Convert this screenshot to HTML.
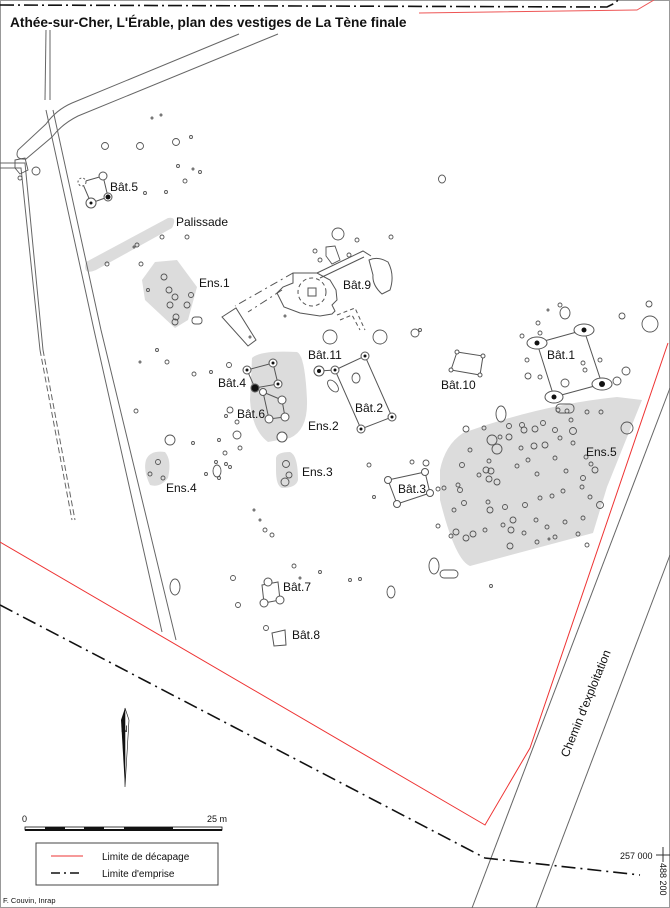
<!DOCTYPE html>
<html><head><meta charset="utf-8"><style>
html,body{margin:0;padding:0;background:#fff}
svg{display:block}
text{font-family:"Liberation Sans",sans-serif;fill:#111}
</style></head><body>
<svg width="670" height="908" viewBox="0 0 670 908" xmlns="http://www.w3.org/2000/svg">
<rect x="0.5" y="0.5" width="669" height="907" fill="#fff" stroke="#999"/>
<!-- top limits -->
<polyline points="0,5 607,7 615,3 618,0" fill="none" stroke="#111" stroke-width="1.6" stroke-dasharray="14,4,2,4"/>
<polyline points="419,13 637,10 654,0" fill="none" stroke="#e55" stroke-width="1"/>
<text x="10" y="27" font-size="13.7" font-weight="bold">Athée-sur-Cher, L'Érable, plan des vestiges de La Tène finale</text>

<!-- gray zones -->
<g fill="#dcdcdc" stroke="none">
<path d="M86,262 L168,218 Q178,216 172,228 L96,270 Q82,276 86,262 Z"/>
<path d="M155,262 L177,260 L197,287 L188,320 L175,328 L145,300 L142,280 Z"/>
<path d="M252,358 Q260,350 297,352 Q305,355 307,400 Q308,430 290,438 L268,442 Q252,430 250,400 Z"/>
<path d="M276,458 Q277,452 290,452 Q298,455 298,480 Q296,488 282,488 Q276,486 276,470 Z"/>
<path d="M146,460 Q150,450 165,452 Q172,460 168,478 Q160,488 150,485 Q143,470 146,460 Z"/>
<path d="M463,433 Q540,405 617,397 L642,400 L607,487 L593,533 L470,566 Q455,560 440,500 L440,470 Q445,445 463,433 Z"/>
</g>

<!-- roads left -->
<path d="M239,34 L72,103 Q56,110 46,124 L18,150 Q14,160 26,159 L52,137 Q62,124 78,116 L278,34" fill="none" stroke="#666" stroke-width="1"/>
<g fill="none" stroke="#666" stroke-width="1">
<polyline points="45,100 46,30"/><polyline points="50,100 50,30"/>
<polyline points="46,110 94,330 162,632"/><polyline points="53,110 101,330 176,640"/>
<polyline points="0,163 25,163 43,350"/><polyline points="0,168 21,168 40,350"/>
<polyline points="43,350 75,520" stroke-dasharray="6,3"/><polyline points="40,350 72,520" stroke-dasharray="6,3"/>
<!-- chemin -->
<line x1="670" y1="388" x2="472" y2="908"/>
<line x1="670" y1="555" x2="536" y2="908"/>
</g>
<!-- limits -->
<polyline points="0,542 485,825 530,748 668,343" fill="none" stroke="#e33" stroke-width="1"/>
<polyline points="0,605 485,858 640,875" fill="none" stroke="#111" stroke-width="1.6" stroke-dasharray="14,5,2,5"/>

<!-- Bât.9 complex -->
<g fill="none" stroke="#555" stroke-width="1">
<path d="M293,273 L317,273 L330,280 L336,290 L337,300 L332,305 L335,311 L332,314 L320,316 L300,313 L284,307 L277,293 L283,287 L293,283 Z"/>
<circle cx="312" cy="292" r="14" stroke-dasharray="4,3"/>
<rect x="308" y="288" width="8" height="8"/>
<polyline points="317,273 363,251 371,256"/><polyline points="320,278 364,257"/>
<path d="M369,260 Q378,256 388,262 Q395,275 390,290 L382,294 Q372,285 373,275 Z"/>
<polyline points="293,273 235,306" stroke-dasharray="8,4,2,4"/>
<polyline points="282,290 248,312" stroke-dasharray="8,4,2,4"/>
<polygon points="222,317 236,308 256,340 248,346"/>
<polyline points="337,315 355,308 365,330" stroke-dasharray="4,3"/>
<polyline points="340,320 352,315 360,330" stroke-dasharray="4,3"/>
</g>

<!-- buildings -->
<g fill="none" stroke="#555" stroke-width="1">
<polygon points="82,182 103,176 108,197 91,203"/>
<polygon points="247,370 273,363 278,384 255,388"/>
<polyline points="263,392 282,400 285,417 269,419 263,392"/>
<polygon points="335,370 365,356 392,417 361,429"/>
<line x1="319" y1="371" x2="335" y2="370"/>
<polygon points="388,480 425,472 430,493 397,504"/>
<polygon points="262,585 278,582 280,600 264,603"/>
<polygon points="272,633 285,630 286,645 274,646"/>
<polygon points="537,343 584,330 602,384 554,397"/>
<polygon points="457,352 483,356 480,375 451,370"/>
</g>
<!-- posts -->
<g fill="#fff" stroke="#555" stroke-width="1">
<circle cx="82" cy="182" r="4" stroke-dasharray="2,2"/><circle cx="103" cy="176" r="4"/><circle cx="108" cy="197" r="4"/><circle cx="91" cy="203" r="5"/>
<circle cx="247" cy="370" r="4"/><circle cx="273" cy="363" r="4"/><circle cx="278" cy="384" r="4"/><circle cx="255" cy="388" r="4"/>
<circle cx="263" cy="392" r="3.5"/><circle cx="282" cy="400" r="4"/><circle cx="285" cy="417" r="4"/><circle cx="269" cy="419" r="4"/><circle cx="282" cy="437" r="5"/>
<circle cx="319" cy="371" r="5"/><circle cx="335" cy="370" r="4"/><circle cx="365" cy="356" r="4"/><circle cx="392" cy="417" r="4"/><circle cx="361" cy="429" r="4"/>
<circle cx="388" cy="480" r="3.5"/><circle cx="425" cy="472" r="3.5"/><circle cx="430" cy="493" r="3.5"/><circle cx="397" cy="504" r="3.5"/>
<circle cx="268" cy="582" r="4"/><circle cx="264" cy="603" r="4"/><circle cx="280" cy="600" r="4"/>
<ellipse cx="537" cy="343" rx="10" ry="6"/><ellipse cx="584" cy="330" rx="10" ry="6"/><ellipse cx="602" cy="384" rx="10" ry="6"/><ellipse cx="554" cy="397" rx="9" ry="6"/>
<circle cx="457" cy="352" r="2"/><circle cx="483" cy="356" r="2"/><circle cx="480" cy="375" r="2"/><circle cx="451" cy="370" r="2"/>
</g>
<g fill="#111">
<circle cx="91" cy="203" r="1.5"/><circle cx="108" cy="197" r="2.5"/>
<circle cx="255" cy="388" r="3.5"/><circle cx="273" cy="363" r="1.5"/><circle cx="278" cy="384" r="1.5"/><circle cx="247" cy="370" r="1.5"/>
<circle cx="319" cy="371" r="2"/><circle cx="335" cy="370" r="1.5"/><circle cx="365" cy="356" r="1.5"/><circle cx="392" cy="417" r="1.5"/><circle cx="361" cy="429" r="1.5"/>
<circle cx="537" cy="343" r="2.5"/><circle cx="584" cy="330" r="2.5"/><circle cx="602" cy="384" r="3"/><circle cx="554" cy="397" r="2.5"/>
</g>

<!-- scattered features -->
<g fill="none" stroke="#555" stroke-width="0.9">
<path d="M15,160 L25,158 L28,170 L20,174 L15,168 Z"/><circle cx="20" cy="178" r="2"/><circle cx="36" cy="171" r="4"/>
<circle cx="105" cy="146" r="3.5"/><circle cx="140" cy="146" r="3.5"/><circle cx="176" cy="142" r="3.5"/><circle cx="191" cy="137" r="1.5"/>
<circle cx="185" cy="181" r="2"/><circle cx="178" cy="166" r="1.5"/><circle cx="145" cy="193" r="1.5"/><circle cx="166" cy="192" r="1.5"/>
<circle cx="161" cy="115" r="1"/><circle cx="152" cy="118" r="1"/><circle cx="200" cy="172" r="1.5"/><circle cx="193" cy="169" r="1"/>
<ellipse cx="442" cy="179" rx="3.5" ry="4"/>
<circle cx="162" cy="237" r="2"/><circle cx="137" cy="245" r="2"/><circle cx="134" cy="247" r="1"/><circle cx="107" cy="264" r="2"/><circle cx="141" cy="264" r="2"/><circle cx="187" cy="237" r="2"/>
<circle cx="164" cy="277" r="3"/><circle cx="169" cy="290" r="3"/><circle cx="175" cy="297" r="3"/><circle cx="187" cy="305" r="3"/><circle cx="170" cy="305" r="3"/><circle cx="176" cy="317" r="3"/><circle cx="175" cy="322" r="3"/><circle cx="191" cy="295" r="2.5"/><circle cx="148" cy="290" r="1.5"/>
<rect x="192" y="317" width="10" height="7" rx="3"/>
<ellipse cx="338" cy="234" rx="6" ry="6"/><circle cx="357" cy="240" r="2"/><circle cx="391" cy="237" r="2"/>
<path d="M326,247 L335,246 L340,260 L332,264 L326,256 Z"/><circle cx="349" cy="255" r="2"/><circle cx="320" cy="260" r="2"/><circle cx="315" cy="251" r="2"/>
<circle cx="330" cy="337" r="7"/><circle cx="380" cy="337" r="7"/><circle cx="415" cy="333" r="4"/>
<circle cx="229" cy="365" r="2.5"/><circle cx="211" cy="372" r="1.5"/><circle cx="194" cy="374" r="2"/><circle cx="157" cy="350" r="1.5"/><circle cx="167" cy="362" r="2"/><circle cx="140" cy="362" r="1"/><circle cx="136" cy="411" r="2"/>
<ellipse cx="333" cy="386" rx="4" ry="7" transform="rotate(-40 333 386)"/><ellipse cx="356" cy="378" rx="4" ry="5"/>
<circle cx="230" cy="410" r="3"/><circle cx="237" cy="422" r="2"/><circle cx="237" cy="435" r="4"/><circle cx="240" cy="448" r="2"/><circle cx="225" cy="453" r="2"/><circle cx="216" cy="462" r="1.5"/><circle cx="219" cy="440" r="1.5"/><circle cx="226" cy="464" r="1.5"/><circle cx="230" cy="467" r="1.5"/>
<circle cx="226" cy="416" r="1.5"/><circle cx="250" cy="337" r="1"/><circle cx="285" cy="316" r="1"/><circle cx="420" cy="330" r="1.5"/>
<ellipse cx="217" cy="471" rx="4" ry="6"/><circle cx="206" cy="474" r="1.5"/><circle cx="219" cy="478" r="1.5"/>
<circle cx="170" cy="440" r="5"/><circle cx="193" cy="443" r="1.5"/>
<circle cx="158" cy="462" r="2.5"/><circle cx="163" cy="478" r="2"/><circle cx="150" cy="474" r="2"/>
<circle cx="286" cy="464" r="3.5"/><circle cx="289" cy="475" r="3"/><circle cx="285" cy="482" r="4"/>
<circle cx="369" cy="465" r="2"/><circle cx="412" cy="462" r="2"/><circle cx="426" cy="463" r="3"/><circle cx="374" cy="497" r="1.5"/><circle cx="438" cy="489" r="2"/>
<ellipse cx="175" cy="587" rx="5" ry="8"/><circle cx="233" cy="578" r="2.5"/><circle cx="238" cy="605" r="2.5"/><circle cx="294" cy="566" r="2"/><circle cx="300" cy="578" r="1"/><circle cx="320" cy="572" r="1.5"/><circle cx="350" cy="580" r="1.5"/><circle cx="360" cy="579" r="1.5"/><circle cx="266" cy="628" r="2.5"/>
<circle cx="265" cy="530" r="2"/><circle cx="272" cy="535" r="2"/><circle cx="260" cy="520" r="1"/><circle cx="254" cy="510" r="1"/>
<ellipse cx="391" cy="592" rx="4" ry="6"/><ellipse cx="434" cy="566" rx="5" ry="8"/><rect x="440" y="570" width="18" height="8" rx="4"/><circle cx="491" cy="586" r="1.5"/>
<ellipse cx="565" cy="313" rx="5" ry="6"/><circle cx="560" cy="305" r="2"/><circle cx="538" cy="323" r="2"/><circle cx="540" cy="333" r="2"/><circle cx="522" cy="336" r="2"/><circle cx="548" cy="310" r="1"/>
<circle cx="650" cy="324" r="8"/><circle cx="622" cy="316" r="3"/><circle cx="649" cy="304" r="3"/>
<circle cx="527" cy="360" r="2"/><circle cx="528" cy="376" r="3"/><circle cx="540" cy="377" r="2"/><circle cx="583" cy="363" r="2"/><circle cx="585" cy="370" r="2"/><circle cx="600" cy="360" r="2"/><circle cx="626" cy="371" r="4"/><circle cx="617" cy="381" r="4"/><circle cx="565" cy="383" r="4"/>
<rect x="556" y="404" width="18" height="9" rx="4"/><ellipse cx="501" cy="414" rx="5" ry="8"/>
<circle cx="509" cy="426" r="2.5"/><circle cx="522" cy="425" r="2.5"/><circle cx="543" cy="423" r="2.5"/><circle cx="558" cy="410" r="2"/><circle cx="567" cy="411" r="2"/><circle cx="587" cy="412" r="2"/><circle cx="601" cy="412" r="2"/><circle cx="627" cy="428" r="6"/>
<circle cx="509" cy="437" r="3"/><circle cx="524" cy="430" r="3"/><circle cx="535" cy="429" r="3"/><circle cx="555" cy="430" r="2.5"/><circle cx="573" cy="431" r="3.5"/><circle cx="571" cy="420" r="2"/><circle cx="466" cy="429" r="3"/><circle cx="484" cy="428" r="2"/><circle cx="500" cy="437" r="2"/>
<circle cx="492" cy="440" r="5"/><circle cx="497" cy="449" r="5"/><circle cx="470" cy="450" r="2"/><circle cx="462" cy="465" r="2.5"/><circle cx="521" cy="448" r="2"/><circle cx="534" cy="446" r="3"/><circle cx="545" cy="445" r="3"/><circle cx="560" cy="438" r="2"/><circle cx="573" cy="443" r="2"/>
<circle cx="486" cy="470" r="3"/><circle cx="491" cy="471" r="3"/><circle cx="489" cy="479" r="3"/><circle cx="497" cy="482" r="3"/><circle cx="517" cy="466" r="2"/><circle cx="528" cy="460" r="2"/><circle cx="537" cy="474" r="2"/><circle cx="555" cy="458" r="2"/><circle cx="566" cy="471" r="2"/><circle cx="586" cy="457" r="2"/><circle cx="591" cy="464" r="2"/><circle cx="595" cy="470" r="3"/><circle cx="583" cy="478" r="2.5"/>
<circle cx="479" cy="475" r="2"/><circle cx="489" cy="461" r="2"/><circle cx="460" cy="490" r="2.5"/><circle cx="464" cy="503" r="2.5"/><circle cx="488" cy="502" r="2"/><circle cx="490" cy="510" r="3"/><circle cx="505" cy="507" r="2.5"/><circle cx="525" cy="505" r="2.5"/><circle cx="540" cy="498" r="2"/><circle cx="552" cy="496" r="2"/><circle cx="563" cy="491" r="2"/><circle cx="582" cy="487" r="2"/><circle cx="590" cy="497" r="2"/><circle cx="600" cy="505" r="3.5"/>
<circle cx="444" cy="488" r="2"/><circle cx="458" cy="485" r="2"/><circle cx="454" cy="510" r="2"/><circle cx="438" cy="526" r="2"/><circle cx="451" cy="536" r="2"/><circle cx="456" cy="532" r="3"/><circle cx="466" cy="538" r="3"/><circle cx="473" cy="534" r="3"/><circle cx="485" cy="530" r="2"/><circle cx="503" cy="525" r="2"/><circle cx="511" cy="530" r="3"/><circle cx="513" cy="520" r="3"/><circle cx="524" cy="533" r="2"/><circle cx="536" cy="520" r="2"/><circle cx="547" cy="527" r="2"/><circle cx="555" cy="537" r="2"/><circle cx="565" cy="522" r="2"/><circle cx="583" cy="518" r="2"/><circle cx="578" cy="534" r="2"/><circle cx="587" cy="545" r="2"/><circle cx="510" cy="546" r="3"/><circle cx="537" cy="542" r="2"/><circle cx="549" cy="539" r="1"/>
</g>

<!-- labels -->
<g font-size="12">
<text x="110" y="191">Bât.5</text>
<text x="176" y="226">Palissade</text>
<text x="199" y="287">Ens.1</text>
<text x="343" y="289">Bât.9</text>
<text x="308" y="359">Bât.11</text>
<text x="218" y="387">Bât.4</text>
<text x="237" y="418">Bât.6</text>
<text x="308" y="430">Ens.2</text>
<text x="355" y="412">Bât.2</text>
<text x="302" y="476">Ens.3</text>
<text x="166" y="492">Ens.4</text>
<text x="398" y="493">Bât.3</text>
<text x="283" y="591">Bât.7</text>
<text x="292" y="639">Bât.8</text>
<text x="547" y="359">Bât.1</text>
<text x="441" y="389">Bât.10</text>
<text x="586" y="456">Ens.5</text>
<text transform="translate(568,758) rotate(-68)" font-size="12">Chemin d'exploitation</text>
</g>

<!-- North arrow -->
<polygon points="125,708 121,720 125,787" fill="#111"/>
<polygon points="125,708 129,720 125,787" fill="#fff" stroke="#111" stroke-width="0.6"/>
<text x="121" y="732" font-size="9">N</text>

<!-- scale -->
<text x="22" y="822" font-size="9">0</text>
<text x="207" y="822" font-size="9">25 m</text>
<rect x="25" y="827" width="197" height="3" fill="#fff" stroke="#111" stroke-width="0.8"/>
<g fill="#111"><rect x="45" y="827" width="20" height="2"/><rect x="84" y="827" width="20" height="2"/><rect x="124" y="827" width="49" height="2"/></g>
<rect x="25" y="829" width="197" height="2" fill="#111"/>

<!-- legend -->
<rect x="36" y="843" width="182" height="42" fill="#fff" stroke="#444" stroke-width="1"/>
<line x1="51" y1="856" x2="83" y2="856" stroke="#e33" stroke-width="1"/>
<text x="102" y="860" font-size="10">Limite de décapage</text>
<line x1="51" y1="873" x2="83" y2="873" stroke="#111" stroke-width="1.6" stroke-dasharray="9,4,2,4"/>
<text x="102" y="877" font-size="10">Limite d'emprise</text>
<text x="3" y="903" font-size="7.5">F. Couvin, Inrap</text>

<!-- coords -->
<text x="620" y="859" font-size="9">257 000</text>
<line x1="656" y1="855" x2="670" y2="855" stroke="#333"/><line x1="663" y1="847" x2="663" y2="862" stroke="#333"/>
<text transform="translate(660,863) rotate(90)" font-size="9">488 200</text>
</svg>
</body></html>
